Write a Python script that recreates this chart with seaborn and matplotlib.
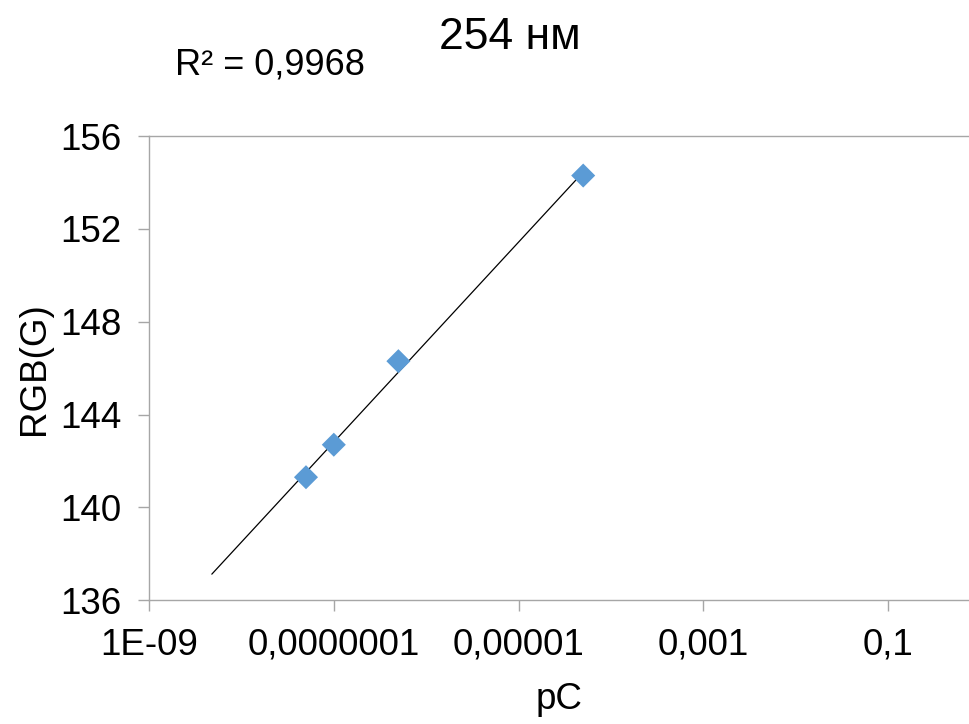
import numpy as np
import pandas as pd
import matplotlib
matplotlib.use("Agg")
import matplotlib.pyplot as plt
import seaborn as sns

# Data
conc = [5e-8, 1e-7, 5e-7, 5e-5]
rgb_g = [141.3, 142.7, 146.3, 154.3]
x_ticks = [1e-9, 1e-7, 1e-5, 1e-3, 1e-1]
x_tick_labels = ["1E-09", "0,0000001", "0,00001", "0,001", "0,1"]
y_ticks = [136, 140, 144, 148, 152, 156]
title = "254 нм"
r2_text = "R² = 0,9968"
trend_start = 10 ** -8.32

sns.set_theme(style="white")
plt.rcParams['font.family'] = ['Liberation Sans', 'DejaVu Sans']

df = pd.DataFrame({"pC": conc, "RGB(G)": rgb_g})

fig = plt.figure(figsize=(9.7, 7.24), dpi=100)
ax = fig.add_axes([0.1536, 0.171, 0.8464, 0.641])

# logarithmic trendline
b, a = np.polyfit(np.log10(conc), rgb_g, 1)
tx = np.array([trend_start, max(conc)])
ty = a + b * np.log10(tx)
ax.plot(tx, ty, color="black", lw=0.9, zorder=2)

sns.scatterplot(data=df, x="pC", y="RGB(G)", marker="D", s=150, color="#5B9BD5",
                edgecolor="none", ax=ax, zorder=3)

ax.set_xscale("log")
ax.set_xlim(1e-9, 10 ** -0.115)
ax.set_ylim(136, 156)
ax.set_xticks(x_ticks)
ax.set_xticklabels(x_tick_labels)
ax.set_yticks(y_ticks)
ax.xaxis.set_minor_locator(matplotlib.ticker.NullLocator())

for s in ["left", "bottom"]:
    ax.spines[s].set_color("#A6A6A6")
    ax.spines[s].set_linewidth(1.0)
ax.spines["right"].set_visible(False)
ax.spines["top"].set_color("#A6A6A6")
ax.spines["top"].set_linestyle((0, (2, 1)))
ax.spines["top"].set_linewidth(1.0)

ax.tick_params(axis="both", which="major", length=8, width=1, color="#A6A6A6",
               labelsize=26.5, labelcolor="black", direction="out",
               left=True, bottom=True)
ax.tick_params(axis="y", pad=12)
ax.tick_params(axis="x", pad=12)

ax.set_xlabel("pC", fontsize=26.5, color="black", labelpad=14)
ax.set_ylabel("RGB(G)", fontsize=26.5, color="black", labelpad=6)

fig.text(0.526, 0.948, title, fontsize=32, ha="center", va="center", color="black")
fig.text(0.18, 0.91, r2_text, fontsize=26, ha="left", va="center", color="black")

fig.savefig("out.png", dpi=100)
